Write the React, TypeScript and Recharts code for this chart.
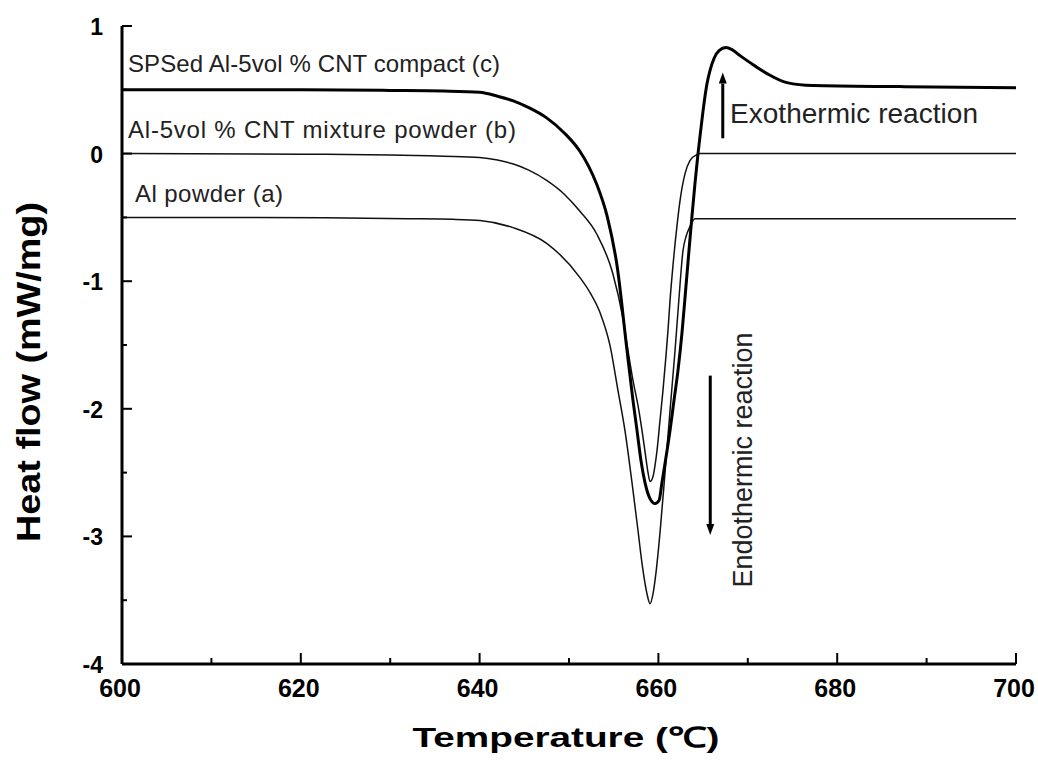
import React from "react";
import { LineChart, Line, XAxis, YAxis, ReferenceLine } from "recharts";

// Temperature (°C) vs heat flow (mW/mg)
const alPowder = [
  [600, -0.5], [615, -0.5], [625, -0.505], [632, -0.51], [637, -0.515], [640.04, -0.525],
  [643.74, -0.58], [647.54, -0.705], [651.23, -0.972], [652.35, -1.089], [653.47, -1.246],
  [654.59, -1.505], [655.48, -1.857], [656.26, -2.171], [657.16, -2.641], [657.72, -2.955],
  [658.17, -3.213], [658.72, -3.448], [659.06, -3.527], [659.4, -3.448], [659.73, -3.284],
  [660.18, -2.97], [660.74, -2.5], [661.3, -2.014], [661.86, -1.544], [662.3, -1.136],
  [662.75, -0.76], [663.09, -0.65], [663.53, -0.572], [664.09, -0.51], [680, -0.51], [700, -0.51],
].map(([t, v]) => ({ t, v }));

const mixturePowder = [
  [600, 0], [620, -0.005], [630, -0.01], [636, -0.02], [640, -0.03], [642, -0.05],
  [643.7, -0.08], [645.5, -0.13], [647.5, -0.21], [649.5, -0.32], [651.2, -0.45],
  [653.1, -0.63], [654.9, -0.94], [656.0, -1.28], [656.6, -1.544], [657.16, -1.779],
  [657.72, -1.975], [658.17, -2.171], [658.61, -2.39], [658.84, -2.5], [659.06, -2.57],
  [659.4, -2.53], [659.62, -2.445], [659.84, -2.33], [660.18, -2.09], [660.51, -1.857],
  [660.85, -1.583], [661.07, -1.387], [661.3, -1.152], [661.63, -0.878], [662.08, -0.564],
  [662.42, -0.368], [662.98, -0.157], [663.53, -0.055], [664.32, -0.008], [664.65, 0], [700, 0],
].map(([t, v]) => ({ t, v }));

const spsCompact = [
  [600, 0.5], [620, 0.5], [630, 0.495], [636, 0.49], [640, 0.48], [642, 0.45],
  [643.7, 0.415], [645.5, 0.36], [647.5, 0.28], [649.5, 0.16], [651.2, 0.02],
  [652.2, -0.1], [653.1, -0.24], [654.3, -0.5], [655.4, -0.89], [656.49, -1.544],
  [657.16, -1.936], [657.61, -2.171], [658.05, -2.406], [658.5, -2.578], [659.06, -2.704],
  [659.62, -2.743], [660.07, -2.719], [660.4, -2.578], [660.74, -2.429], [661.3, -2.171],
  [661.74, -1.936], [662.19, -1.701], [662.64, -1.403], [663.09, -1.034], [663.42, -0.76],
  [663.76, -0.486], [664.09, -0.235], [664.43, 0], [664.77, 0.204], [665.1, 0.392],
  [665.44, 0.549], [665.77, 0.65], [666.22, 0.745], [666.78, 0.807], [667.56, 0.831],
  [668.23, 0.815], [669.13, 0.768], [670.25, 0.713], [672.15, 0.627], [674.38, 0.556],
  [677.29, 0.533], [687.02, 0.525], [700, 0.517],
].map(([t, v]) => ({ t, v }));

const tempTicks = [600, 610, 620, 630, 640, 650, 660, 670, 680, 690, 700];
const heatTicks = [-4, -3.5, -3, -2.5, -2, -1.5, -1, -0.5, 0, 0.5, 1];

const exoArrow = [{ x: 667.2, y: 0.12 }, { x: 667.2, y: 0.635 }];
const endoArrow = [{ x: 665.8, y: -1.74 }, { x: 665.8, y: -2.99 }];

const FONT = "'Liberation Sans', Arial, Helvetica, sans-serif";

function XTick(props: any) {
  const { x, y, payload } = props;
  const v = payload.value;
  const major = v % 20 === 0;
  return (
    <g>
      <line x1={x} x2={x} y1={y} y2={y - (major ? 11 : 6)} stroke="#000" strokeWidth={2} />
      {major && (
        <text x={x - 2} y={y + 33} textAnchor="middle" fontSize={25} fontWeight="bold" fontFamily={FONT} fill="#000">
          {String(v)}
        </text>
      )}
    </g>
  );
}

function YTick(props: any) {
  const { x, y, payload } = props;
  const v = payload.value;
  const major = Number.isInteger(v);
  return (
    <g>
      <line x1={x} x2={x + (major ? 10 : 5)} y1={y} y2={y} stroke="#000" strokeWidth={2} />
      {major && (
        <text x={x - 19} y={y + 9} textAnchor="end" fontSize={23} fontWeight="bold" fontFamily={FONT} fill="#000">
          {String(v)}
        </text>
      )}
    </g>
  );
}

function Arrow(props: any) {
  const { x1, y1, x2, y2 } = props;
  const dir = y2 < y1 ? -1 : 1;
  const tipY = y2;
  const baseY = y2 - dir * 11;
  return (
    <g>
      <line x1={x1} y1={y1} x2={x2} y2={baseY} stroke="#000" strokeWidth={3} />
      <polygon points={`${x2 - 4},${baseY} ${x2 + 4},${baseY} ${x2},${tipY}`} fill="#000" />
    </g>
  );
}

export default function App() {
  const W = 1038;
  const H = 761;
  return (
    <div style={{ position: "relative", width: W, height: H, background: "#fff", overflow: "hidden" }}>
      <style>{`html,body{margin:0;padding:0;overflow:hidden;}`}</style>
      <LineChart width={W} height={H} data={spsCompact} margin={{ top: 26, right: 22, left: 0, bottom: 0 }}>
        <XAxis
          type="number"
          dataKey="t"
          domain={[600, 700]}
          ticks={tempTicks}
          interval={0}
          height={97}
          tickSize={0}
          tickMargin={0}
          tickLine={false}
          tick={<XTick />}
          axisLine={{ stroke: "#000", strokeWidth: 3 }}
        />
        <XAxis
          xAxisId="top"
          orientation="top"
          type="number"
          dataKey="t"
          domain={[600, 700]}
          height={0}
          tick={false}
          tickLine={false}
          axisLine={{ stroke: "#000", strokeWidth: 3 }}
        />
        <YAxis
          type="number"
          domain={[-4, 1]}
          ticks={heatTicks}
          interval={0}
          width={122}
          tickSize={0}
          tickMargin={0}
          tickLine={false}
          tick={<YTick />}
          axisLine={{ stroke: "#000", strokeWidth: 3 }}
        />
        <YAxis
          yAxisId="right"
          orientation="right"
          type="number"
          domain={[-4, 1]}
          width={0}
          tick={false}
          tickLine={false}
          axisLine={{ stroke: "#000", strokeWidth: 3 }}
        />
        <Line data={alPowder} dataKey="v" type="monotone" stroke="#111" strokeWidth={1.5} dot={false} isAnimationActive={false} />
        <Line data={mixturePowder} dataKey="v" type="monotone" stroke="#111" strokeWidth={1.5} dot={false} isAnimationActive={false} />
        <Line data={spsCompact} dataKey="v" type="monotone" stroke="#000" strokeWidth={3} dot={false} isAnimationActive={false} />
        <ReferenceLine segment={exoArrow} shape={<Arrow />} />
        <ReferenceLine segment={endoArrow} shape={<Arrow />} />
      </LineChart>
      <svg width={W} height={H} style={{ position: "absolute", left: 0, top: 0, pointerEvents: "none" }}>
        <text x={128} y={72} fontSize={24} fontFamily={FONT} fill="#222" textLength={372} lengthAdjust="spacing">
          SPSed Al-5vol % CNT compact (c)
        </text>
        <text x={128} y={138} fontSize={24} fontFamily={FONT} fill="#222" textLength={388} lengthAdjust="spacing">
          Al-5vol % CNT mixture powder (b)
        </text>
        <text x={135} y={202} fontSize={24} fontFamily={FONT} fill="#222" textLength={148} lengthAdjust="spacing">
          Al powder (a)
        </text>
        <text x={730} y={123} fontSize={28} fontFamily={FONT} fill="#222" textLength={248} lengthAdjust="spacing">
          Exothermic reaction
        </text>
        <text
          x={0}
          y={0}
          fontSize={27}
          fontFamily={FONT}
          fill="#222"
          textAnchor="middle"
          textLength={255}
          lengthAdjust="spacing"
          transform="translate(752, 460) rotate(-90)"
        >
          Endothermic reaction
        </text>
        <text
          x={0}
          y={0}
          fontSize={34}
          fontWeight="bold"
          fontFamily={FONT}
          fill="#000"
          textAnchor="middle"
          textLength={340}
          lengthAdjust="spacingAndGlyphs"
          transform="translate(40, 372) rotate(-90)"
        >
          Heat flow (mW/mg)
        </text>
        <text
          x={566}
          y={747}
          fontSize={28}
          fontWeight="bold"
          fontFamily={FONT}
          fill="#000"
          textAnchor="middle"
          textLength={307}
          lengthAdjust="spacingAndGlyphs"
        >
          Temperature (℃)
        </text>
      </svg>
    </div>
  );
}
